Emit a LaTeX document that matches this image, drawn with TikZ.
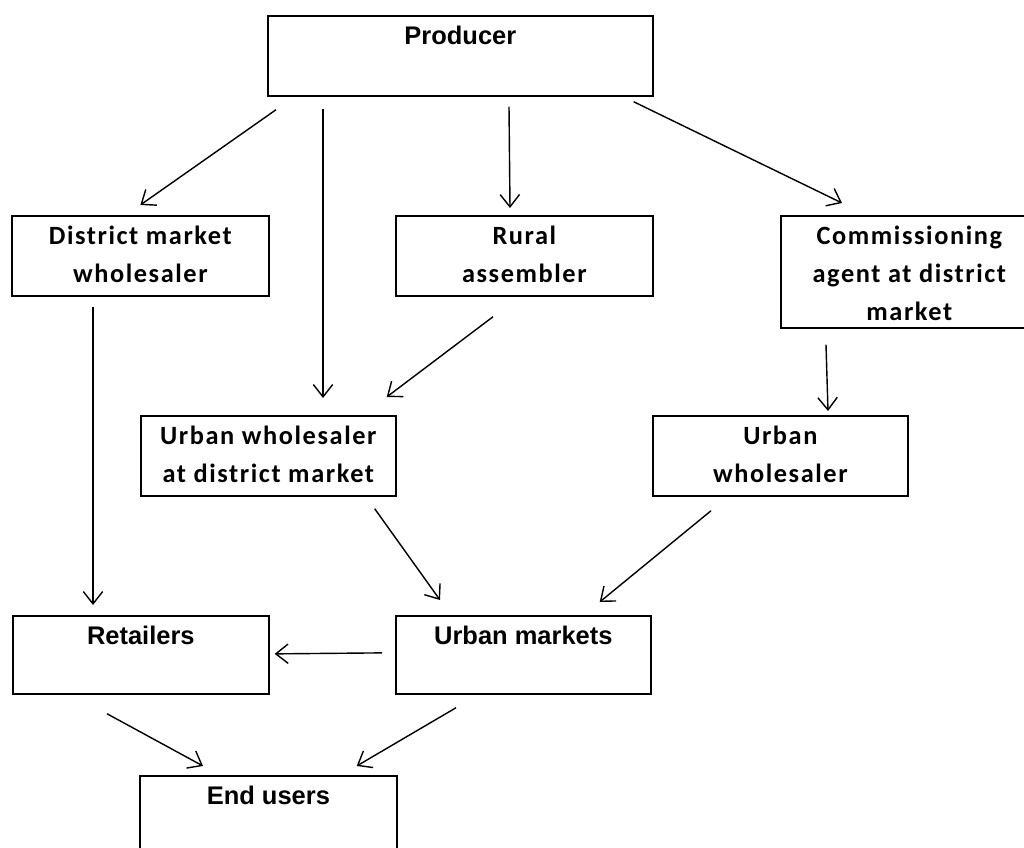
\documentclass[tikz,border=0pt]{standalone}
\usepackage{fontspec}
\newfontfamily\calfont[LetterSpace=6]{Carlito}
\newfontfamily\arialfont{Liberation Sans}
\usetikzlibrary{arrows.meta,calc}
\tikzset{
  box/.style={draw, line width=1pt, anchor=north west, inner sep=0pt, minimum width=5.14cm, minimum height=1.6cm},
  txt/.style={anchor=north, align=center, inner sep=0pt, yshift=-6pt, font=\calfont\bfseries\fontsize{15}{21.5}\selectfont},
  txta/.style={txt, font=\arialfont\bfseries\fontsize{14.5}{21.5}\selectfont}
}
\begin{document}
\begin{tikzpicture}[x=0.02cm, y=-0.02cm, >={Straight Barb[length=7pt,width=11pt]}, line width=0.8pt]
            \useasboundingbox (0,0) rectangle (1024,848);
            \clip (0,0) rectangle (1024,848);

            \node[box, minimum width=7.7cm, label={[txta]north:Producer}] (producer) at (267,15) {};
            \node[box, label={[txt]north:District market\\wholesaler}] (distwhole) at (11,215) {};
            \node[box, label={[txt]north:Rural\\assembler}] (rural) at (395,215) {};
            \node[box, minimum height=2.24cm, label={[txt]north:Commissioning\\agent at district\\market}] (agent) at (780,215) {};
            \node[box, minimum width=5.1cm, label={[txt]north:Urban wholesaler\\at district market}] (urbdist) at (140,415) {};
            \node[box, minimum width=5.1cm, label={[txt]north:Urban\\wholesaler}] (urbwhole) at (652,415) {};
            \node[box, minimum width=5.12cm, minimum height=1.56cm, label={[txta]north:Retailers}] (retail) at (12,615) {};
            \node[box, minimum width=5.1cm, minimum height=1.56cm, label={[txta]north:Urban markets}] (urbmkt) at (395,615) {};
            \node[box, minimum height=1.8cm, label={[txta]north:End users}] (endusers) at (139,775) {};

            \draw[->] ($(producer.south west)+(9,13)$) -- ($(distwhole.north)+(0,-10)$);
            \draw[->] ($(producer.south west)+(56,12)$) -- ($(urbdist.north west)+(183,-17)$);
            \draw[->] ($(producer.south west)+(242,10)$) -- ($(rural.north west)+(115,-7)$);
            \draw[->] ($(producer.south east)+(-20,5)$) -- ($(agent.north west)+(62,-12)$);
            \draw[->] ($(distwhole.south west)+(82,10)$) -- ($(retail.north west)+(81,-10)$);
            \draw[->] ($(rural.south west)+(98,20)$) -- ($(urbdist.north east)+(-10,-18)$);
            \draw[->] ($(agent.south west)+(46,16)$) -- ($(urbwhole.north west)+(176,-4)$);
            \draw[->] ($(urbdist.south east)+(-22,12)$) -- ($(urbmkt.north west)+(45,-15)$);
            \draw[->] ($(urbwhole.south west)+(59,14)$) -- ($(urbmkt.north east)+(-52,-13)$);
            \draw[->] ($(urbmkt.west)+(-13,-2)$) -- ($(retail.east)+(5,-1)$);
            \draw[->] ($(retail.south west)+(95,19)$) -- ($(endusers.north west)+(64,-9)$);
            \draw[->] ($(urbmkt.south west)+(61,13)$) -- ($(endusers.north east)+(-41,-9)$);
\end{tikzpicture}
\end{document}
